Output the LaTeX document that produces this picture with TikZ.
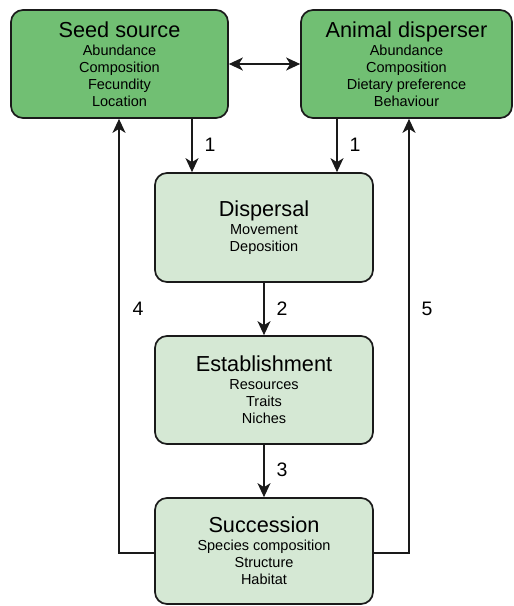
\documentclass[tikz,border=0pt]{standalone}
\usepackage{fontspec}
\setmainfont{Liberation Sans}
\usetikzlibrary{arrows.meta}
\definecolor{darkgreen}{HTML}{71BF73}
\definecolor{lightgreen}{HTML}{D5E8D4}
\definecolor{edge}{HTML}{1A1A1A}
\newcommand{\ttl}[1]{{\fontsize{21.7}{21.7}\selectfont #1}\\[1pt]}
\begin{document}
\begin{tikzpicture}[x=1pt,y=-1pt,
  box/.style={draw=edge, line width=1.7pt, rounded corners=12pt, align=center,
    inner sep=0pt, font=\fontsize{14.5}{17}\selectfont},
  topbox/.style={box, fill=darkgreen},
  lowbox/.style={box, fill=lightgreen, minimum width=218pt},
  tip/.tip={Stealth[length=14pt,width=13pt,inset=4pt]},
  arr/.style={draw=edge, line width=1.6pt, -tip},
  num/.style={font=\fontsize{19.5}{19.5}\selectfont, inner sep=0pt}]
\useasboundingbox (0,0) rectangle (514,606);

% top row
\node[topbox, minimum width=217pt, minimum height=108pt] (seed) at (119.5,64)
  {\ttl{Seed source}Abundance\\Composition\\Fecundity\\Location};
\node[topbox, minimum width=211pt, minimum height=108pt] (animal) at (406.5,64)
  {\ttl{Animal disperser}Abundance\\Composition\\Dietary preference\\Behaviour};

% process chain
\node[lowbox, minimum height=109pt] (disp) at (264,227.5)
  {\ttl{Dispersal}Movement\\Deposition};
\node[lowbox, minimum height=108pt] (estab) at (264,390)
  {\ttl{Establishment}Resources\\Traits\\Niches};
\node[lowbox, minimum height=106pt] (succ) at (264,551)
  {\ttl{Succession}Species composition\\Structure\\Habitat};

% helper coordinates for vertical connectors
\coordinate (xl) at (192,0);
\coordinate (xr) at (337,0);
\coordinate (fl) at (119,553);
\coordinate (fr) at (409,553);

\draw[arr, tip-tip] (seed.east) -- (animal.west);
\draw[arr] (seed.south -| xl) -- (disp.north -| xl);
\draw[arr] (animal.south -| xr) -- (disp.north -| xr);
\draw[arr] (disp.south) -- (estab.north);
\draw[arr] (estab.south) -- (succ.north);
\draw[arr] (succ.west |- fl) -- (fl) -- (seed.south -| fl);
\draw[arr] (succ.east |- fr) -- (fr) -- (animal.south -| fr);

% connector labels
\node[num] (n1a) at (210,145) {1};
\node[num] (n1b) at (355,145) {1};
\node[num] (n2) at (282,309) {2};
\node[num] (n3) at (282,470) {3};
\node[num] (n4) at (138,309) {4};
\node[num] (n5) at (427,309) {5};
\end{tikzpicture}
\end{document}
